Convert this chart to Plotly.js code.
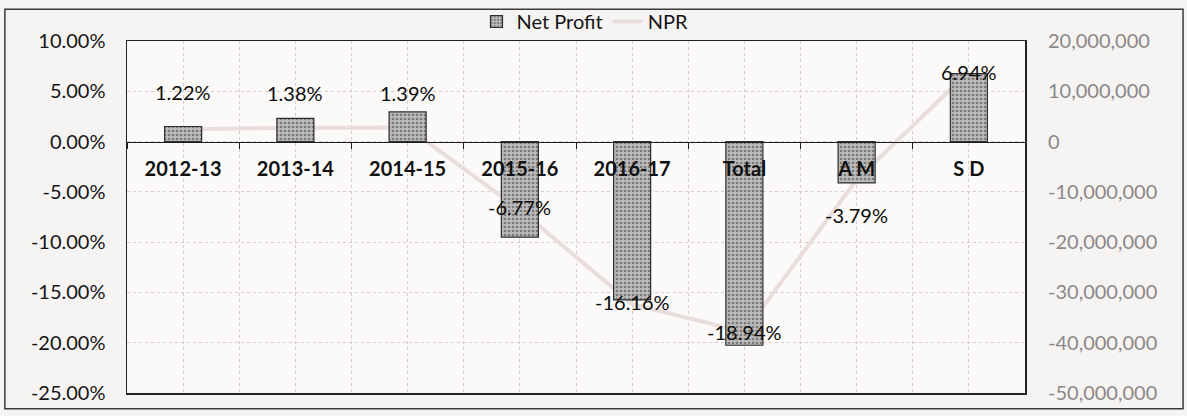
<!DOCTYPE html>
<html>
<head>
<meta charset="utf-8">
<script src="https://cdn.plot.ly/plotly-3.0.1.min.js"></script>
<style>
  html, body { margin: 0; padding: 0; background: #f6f4f3; }
  #chart { width: 1187px; height: 416px; }
</style>
</head>
<body>
<div id="chart"></div>
<script>
// ---- data ----
const categories = ["2012-13", "2013-14", "2014-15", "2015-16", "2016-17", "Total", "A M", "S D"];
const netProfit = [3.0e6, 4.6e6, 5.9e6, -19.0e6, -31.5e6, -40.5e6, -8.2e6, 13.5e6];
const npr = [1.22, 1.38, 1.39, -6.77, -16.16, -18.94, -3.79, 6.94];
const leftTicks = [10, 5, 0, -5, -10, -15, -20, -25];
const rightTicks = [20e6, 10e6, 0, -10e6, -20e6, -30e6, -40e6, -50e6];
// label offsets (px, upward) for the NPR data labels
const labelShift = [37, 35, 35, 3, 2, 0, -35, 0];

const leftRange = [-25, 10];
const rightRange = [-50e6, 20e6];
const zeroPos = -leftRange[0] / (leftRange[1] - leftRange[0]);

const FONT = "Lato, 'Open Sans', sans-serif";

const traces = [
  {
    type: "bar", name: "Net Profit", x: categories, y: netProfit,
    xaxis: "x", yaxis: "y2", width: 0.33,
    marker: {
      color: "#b3b1b0",
      line: { color: "#2e2e2e", width: 1.2 },
      pattern: { shape: ".", fgcolor: "#7a7878", bgcolor: "#bdbbba", size: 4, solidity: 0.35 }
    },
    hoverinfo: "x+y"
  },
  {
    type: "scatter", mode: "lines", name: "NPR", x: categories, y: npr,
    xaxis: "x", yaxis: "y",
    line: { color: "#e9dddd", width: 4 }
  },
  { type: "scatter", x: [], y: [], xaxis: "x2", yaxis: "y", showlegend: false, hoverinfo: "skip" }
];

const annotations = categories.map((c, i) => ({
  x: c, y: npr[i], xref: "x", yref: "y",
  text: npr[i].toFixed(2) + "%", showarrow: false, yshift: labelShift[i],
  font: { family: FONT, size: 20, color: "#0c0c0c" }
}));

const layout = {
  width: 1187, height: 416,
  margin: { l: 127, r: 162, t: 41, b: 23, autoexpand: false },
  paper_bgcolor: "#f6f4f3",
  plot_bgcolor: "#fbfaf9",
  font: { family: FONT, color: "#151515" },
  showlegend: true,
  legend: {
    orientation: "h", x: 0.51, xanchor: "center", y: 1.0, yanchor: "bottom",
    font: { family: FONT, size: 20, color: "#151515" },
    bgcolor: "rgba(0,0,0,0)", traceorder: "normal"
  },
  xaxis: {
    type: "category", anchor: "free", position: zeroPos,
    range: [-0.5, categories.length - 0.5],
    showline: true, linecolor: "#1e1e1e", linewidth: 1.5,
    ticks: "outside", tickson: "boundaries", ticklen: 6, tickcolor: "#1e1e1e",
    showgrid: false, zeroline: false,
    ticklabelstandoff: 9,
    tickfont: { family: FONT, size: 20, color: "#111", weight: "bold" }
  },
  xaxis2: {
    overlaying: "x", anchor: "y", type: "linear",
    range: [-0.5, categories.length - 0.5], tick0: -0.5, dtick: 0.5,
    showgrid: true, gridcolor: "#d6cccc", griddash: "dot", gridwidth: 1,
    showticklabels: false, ticks: "", zeroline: false,
    showline: true, mirror: true, linecolor: "#222", linewidth: 1.5
  },
  yaxis: {
    range: leftRange, tickvals: leftTicks,
    ticktext: leftTicks.map(v => v.toFixed(2) + "%"),
    showgrid: true, gridcolor: "#d6cccc", griddash: "dot", gridwidth: 1,
    zeroline: false, showline: true, mirror: true, linecolor: "#222", linewidth: 1.5,
    ticks: "", ticklabelstandoff: 16,
    tickfont: { family: FONT, size: 20, color: "#151515" }
  },
  yaxis2: {
    overlaying: "y", side: "right", range: rightRange, tickvals: rightTicks,
    ticktext: rightTicks.map(v => v.toLocaleString("en-US")),
    showgrid: false, zeroline: false, showline: false, ticks: "",
    ticklabelstandoff: 22,
    tickfont: { family: FONT, size: 20, color: "#8c8888" }
  },
  annotations: annotations,
  shapes: [
    {
      type: "rect", xref: "paper", yref: "paper",
      x0: -0.136, x1: 1.176, y0: -0.045, y1: 1.09,
      line: { color: "#3a3a3a", width: 1.5 }, fillcolor: "rgba(0,0,0,0)", layer: "below"
    }
  ]
};

Plotly.newPlot("chart", traces, layout, { displayModeBar: false, staticPlot: true });
</script>
</body>
</html>
